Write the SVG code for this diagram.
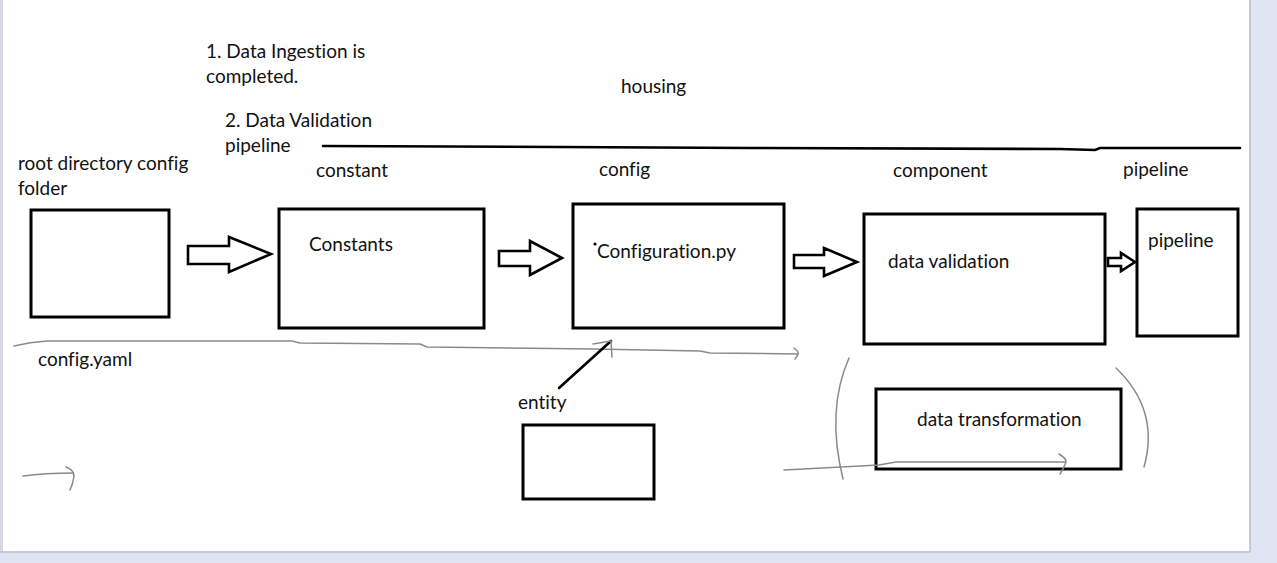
<svg xmlns="http://www.w3.org/2000/svg" width="1277" height="563" viewBox="0 0 1277 563">
<defs>
<style>
.t{font-family:Lato,"Open Sans","Liberation Sans",sans-serif;font-size:19px;fill:#111;font-variant-ligatures:none}
.box{fill:#fff;stroke:#000;stroke-width:3}
.blk{fill:#fff;stroke:#000;stroke-width:2.6;stroke-linejoin:miter}
.pen{fill:none;stroke:#8a8a8a;stroke-width:1.5;stroke-linecap:round;stroke-linejoin:round}
.ink{fill:none;stroke:#000;stroke-width:2.6;stroke-linecap:round}
</style>
</defs>
<rect x="0" y="0" width="1277" height="563" fill="#dfe4f2"/>
<rect x="0" y="0" width="1250" height="552" fill="#fff"/>
<rect x="0" y="0" width="3" height="552" fill="#d6d9e4"/>
<line x1="1250" y1="0" x2="1250" y2="552" stroke="#b9bdcc" stroke-width="1.5"/>
<line x1="0" y1="552" x2="1250" y2="552" stroke="#b9bdcc" stroke-width="1.5"/>

<g id="notes">
<text class="t" x="206" y="58">1. Data Ingestion is</text>
<text class="t" x="206" y="83">completed.</text>
<text class="t" x="621" y="93">housing</text>
<text class="t" x="225" y="127">2. Data Validation</text>
<text class="t" x="225" y="152">pipeline</text>
<path class="ink" d="M323 146 L560 147 L750 148 L1060 149 L1095 150 L1100 148 L1240 148"/>
</g>

<g id="layer-labels">
<text class="t" x="18" y="170">root directory config</text>
<text class="t" x="18" y="195">folder</text>
<text class="t" x="316" y="177">constant</text>
<text class="t" x="599" y="176">config</text>
<text class="t" x="893" y="177">component</text>
<text class="t" x="1123" y="176">pipeline</text>
</g>

<g id="node-root-config">
<rect class="box" x="31" y="210" width="138" height="107"/>
<text class="t" x="38" y="366">config.yaml</text>
</g>
<g id="node-constants">
<rect class="box" x="279" y="209" width="205" height="119"/>
<text class="t" x="309" y="251">Constants</text>
</g>
<g id="node-configuration">
<rect class="box" x="573" y="204" width="211" height="124"/>
<circle cx="595" cy="244" r="1.6" fill="#000"/>
<text class="t" x="597" y="258">Configuration.py</text>
</g>
<g id="node-data-validation">
<rect class="box" x="864" y="214" width="241" height="130"/>
<text class="t" x="888" y="268">data validation</text>
</g>
<g id="node-pipeline">
<rect class="box" x="1137" y="209" width="101" height="127"/>
<text class="t" x="1148" y="247">pipeline</text>
</g>
<g id="node-entity">
<text class="t" x="518" y="409">entity</text>
<rect class="box" x="523" y="425" width="131" height="74"/>
</g>
<g id="node-data-transformation">
<rect class="box" x="876" y="389" width="245" height="80"/>
<text class="t" x="917" y="426">data transformation</text>
</g>

<g id="connectors">
<path class="blk" d="M188 246 L229 246 L229 237 L271 254 L229 272 L229 264 L188 264 Z"/>
<path class="blk" d="M499 251 L530 251 L530 241 L562 258 L530 275 L530 266 L499 266 Z"/>
<path class="blk" d="M794 255 L824 255 L824 248 L857 262 L824 276 L824 268 L794 268 Z"/>
<path class="blk" d="M1108 258 L1121 258 L1121 253 L1135 262 L1121 271 L1121 266 L1108 266 Z"/>
<path class="pen" d="M14 346 Q30 342 47 341 L292 341 L300 343 L420 344 L427 347 L593 349 L700 351 L710 353 L798 354"/>
<path class="pen" d="M794 348 Q799 352 798 354 Q797 357 795 359"/>
<line class="ink" x1="559" y1="388" x2="611" y2="341"/>
<path class="pen" d="M593 344 L611 341 L612 357"/>
<path class="pen" d="M23 476 Q45 473 73 473"/>
<path class="pen" d="M66 467 Q74 470 74 476 Q73 484 70 490"/>
<path class="pen" d="M849 358 Q826 410 843 479"/>
<path class="pen" d="M1116 368 Q1160 410 1144 467"/>
<path class="pen" d="M784 470 L879 465 L896 462 L1065 462"/>
<path class="pen" d="M1059 454 Q1066 458 1066 462 Q1064 468 1060 474"/>
</g>
</svg>
